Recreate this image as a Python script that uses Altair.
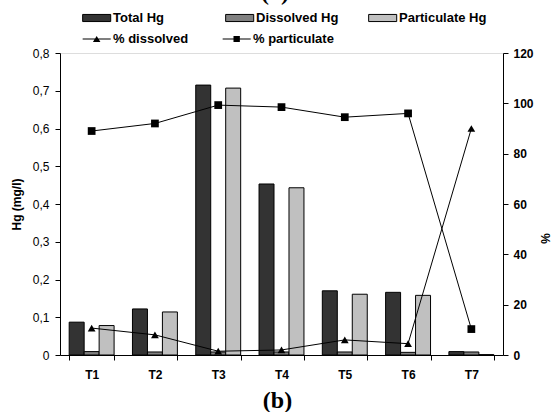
import altair as alt
import pandas as pd

sites = ["T1", "T2", "T3", "T4", "T5", "T6", "T7"]
total_hg = [0.087, 0.122, 0.715, 0.453, 0.170, 0.166, 0.009]
dissolved_hg = [0.009, 0.008, 0.008, 0.008, 0.008, 0.007, 0.008]
particulate_hg = [0.078, 0.114, 0.707, 0.443, 0.161, 0.158, 0.001]
pct_dissolved = [10.7, 8.0, 1.5, 2.0, 6.0, 4.5, 90.0]
pct_particulate = [89.0, 92.0, 99.3, 98.5, 94.5, 96.0, 10.3]

bar_series = ["Total Hg", "Dissolved Hg", "Particulate Hg"]
bar_colors = ["#333333", "#808080", "#c0c0c0"]
line_series = ["% dissolved", "% particulate"]
line_shapes = ["triangle-up", "square"]

bar_rows = []
for name, vals in zip(bar_series, [total_hg, dissolved_hg, particulate_hg]):
    for s, v in zip(sites, vals):
        bar_rows.append({"site": s, "series": name, "value": v})
bars_df = pd.DataFrame(bar_rows)

line_rows = []
for name, vals in zip(line_series, [pct_dissolved, pct_particulate]):
    for s, v in zip(sites, vals):
        line_rows.append({"site": s, "series": name, "pct": v})
lines_df = pd.DataFrame(line_rows)

FONT = "Liberation Sans"

x_enc = alt.X(
    "site:N", sort=sites,
    scale=alt.Scale(paddingInner=0.29, paddingOuter=0.145),
    axis=alt.Axis(title=None, tickBand="extent", labelAngle=0, labelFontWeight="bold",
                  labelFontSize=12, tickSize=5, labelPadding=9, domainColor="black",
                  tickColor="black", labelColor="black", labelFont=FONT),
)

bars = alt.Chart(bars_df).mark_bar(stroke="black", strokeWidth=1).encode(
    x=x_enc,
    xOffset=alt.XOffset("series:N", sort=bar_series,
                        scale=alt.Scale(paddingInner=0, paddingOuter=0)),
    y=alt.Y("value:Q", scale=alt.Scale(domain=[0, 0.8], nice=False),
            axis=alt.Axis(orient="left", title="Hg (mg/l)", values=[0, 0.1, 0.2, 0.3, 0.4, 0.5, 0.6, 0.7, 0.8],
                          labelExpr="datum.value == 0 ? '0' : replace(format(datum.value, '.1f'), '.', ',')",
                          grid=False, tickSize=5, labelPadding=6, labelFontSize=12, labelFont=FONT,
                          titleFont=FONT, titleFontSize=12, titleFontWeight="bold", titlePadding=9,
                          domainColor="black", tickColor="black", labelColor="black", titleColor="black")),
    color=alt.Color("series:N", sort=bar_series,
                    scale=alt.Scale(domain=bar_series, range=bar_colors),
                    legend=alt.Legend(title=None, orient="none", legendX=22, legendY=-45,
                                      direction="horizontal", columns=3, gridAlign="all",
                                      columnPadding=22, symbolType="M-1,-0.38H2V0.38H-1Z",
                                      symbolSize=350, symbolStrokeColor="black", symbolStrokeWidth=1,
                                      labelFont=FONT, labelFontSize=13, labelFontWeight="bold",
                                      labelColor="black", labelOffset=11, padding=0)),
)

y_pct = alt.Y("pct:Q", scale=alt.Scale(domain=[0, 120], nice=False),
              axis=alt.Axis(orient="right", title="%", values=[0, 20, 40, 60, 80, 100, 120],
                            grid=False, tickSize=5, labelPadding=5, labelFontSize=12,
                            labelFontWeight="bold", labelFont=FONT, titleFont=FONT,
                            titleFontSize=12, titleFontWeight="bold", titlePadding=4,
                            titleY=185, domainColor="black", tickColor="black",
                            labelColor="black", titleColor="black"))

line = alt.Chart(lines_df).mark_line(color="black", strokeWidth=1).encode(
    x=alt.X("site:N", sort=sites), y=y_pct, detail="series:N"
)
pts = alt.Chart(lines_df).mark_point(filled=True, color="black", opacity=1, size=60).encode(
    x=alt.X("site:N", sort=sites), y=y_pct,
    shape=alt.Shape("series:N", sort=line_series,
                    scale=alt.Scale(domain=line_series, range=line_shapes), legend=None),
)
leg = alt.Chart(lines_df).mark_point(filled=True, fill="black", stroke="black", strokeWidth=1,
                                     opacity=0).encode(
    x=alt.X("site:N", sort=sites), y=y_pct,
    shape=alt.Shape("series:N", sort=line_series,
                    scale=alt.Scale(domain=line_series,
                                    range=["M-1,-0.05H2V0.05H-1ZM0.1,0.33L0.5,-0.33L0.9,0.33Z",
                                           "M-1,-0.05H2V0.05H-1ZM0.16,-0.32H0.84V0.32H0.16Z"]),
                    legend=alt.Legend(title=None, orient="none", legendX=22, legendY=-24,
                                      direction="horizontal", columns=2, gridAlign="all",
                                      columnPadding=27, symbolSize=350, symbolOpacity=1,
                                      symbolFillColor="black", symbolStrokeColor="black",
                                      symbolStrokeWidth=0.6,
                                      labelFont=FONT, labelFontSize=13, labelFontWeight="bold",
                                      labelColor="black", labelOffset=11, padding=0)),
)
lines = alt.layer(line, pts, leg).resolve_scale(shape="independent")

top_label = alt.Chart(pd.DataFrame({"t": ["(a)"]})).mark_text(
    font="Liberation Serif", fontSize=24, fontWeight="bold", baseline="alphabetic", align="center"
).encode(text="t:N", x=alt.value(215), y=alt.value(-53))

chart = alt.layer(bars, lines, top_label).resolve_scale(y="independent").properties(
    width=443, height=302,
    autosize=alt.AutoSizeParams(type="none"),
    padding={"left": 60, "top": 53, "right": 49, "bottom": 57},
    title=alt.TitleParams("(b)", orient="bottom", anchor="middle", font="Liberation Serif",
                          fontSize=24, fontWeight="bold", color="black", offset=9, dx=-4),
).configure_view(stroke=None).configure(background="white")

chart.save("out.html", embed_options={"renderer": "svg", "actions": False})
